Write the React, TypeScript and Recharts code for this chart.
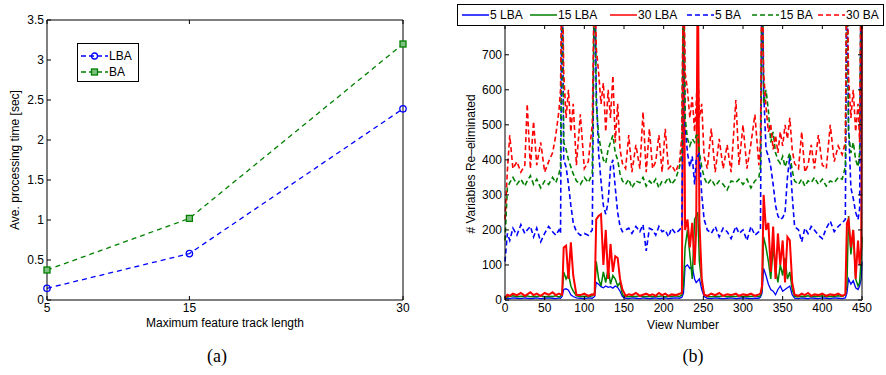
import React from 'react';
import { LineChart, Line, XAxis, YAxis } from 'recharts';

// (a) average processing time
const trackLengths = [5, 15, 30];
const lbaTime = [0.146, 0.58, 2.39];
const baTime = [0.375, 1.02, 3.2];
const timeTicks = [0, 0.5, 1, 1.5, 2, 2.5, 3, 3.5];

// (b) variables re-eliminated per view
const views = [
  0, 3, 6, 10, 15, 20, 25, 28, 32, 36,
  40, 45, 50, 55, 60, 64, 68, 70, 72, 74,
  77, 80, 83, 86, 90, 95, 100, 105, 110, 113,
  115, 118, 121, 124, 127, 130, 133, 136, 139, 142,
  145, 148, 152, 156, 160, 165, 170, 174, 178, 182,
  186, 190, 194, 198, 202, 206, 210, 215, 220, 223,
  225, 227, 230, 233, 236, 239, 241, 243, 245, 248,
  251, 255, 260, 265, 270, 275, 280, 285, 291, 295,
  300, 305, 310, 315, 320, 322, 324, 326, 329, 332,
  335, 338, 341, 344, 347, 350, 353, 356, 359, 362,
  365, 370, 374, 378, 382, 386, 390, 395, 400, 405,
  410, 415, 420, 425, 429, 431, 433, 436, 439, 442,
  445, 447, 449, 450,
];
const lba5 = [
  3, 5, 4, 6, 5, 4, 6, 5, 4, 5,
  6, 4, 5, 6, 5, 4, 6, 5, 10, 30,
  32, 28, 15, 10, 6, 5, 4, 6, 5, 10,
  50, 45, 38, 35, 40, 36, 38, 34, 40, 36,
  25, 10, 5, 4, 6, 5, 4, 6, 5, 4,
  5, 6, 4, 5, 6, 4, 5, 6, 5, 8,
  20, 95, 100, 90, 95, 60, 50, 55, 60, 30,
  10, 5, 4, 6, 5, 4, 5, 6, 4, 5,
  6, 5, 4, 5, 5, 8, 20, 90, 70, 45,
  30, 25, 15, 30, 40, 25, 30, 35, 40, 15,
  5, 4, 6, 5, 4, 6, 5, 4, 6, 5,
  4, 6, 5, 4, 6, 20, 60, 45, 55, 35,
  30, 40, 60, 110,
];
const lba15 = [
  5, 9, 10, 12, 9, 11, 10, 12, 9, 11,
  10, 12, 9, 11, 10, 12, 9, 11, 20, 80,
  60, 75, 40, 25, 12, 10, 11, 9, 12, 20,
  110, 60, 40, 80, 50, 90, 45, 70, 60, 40,
  50, 15, 10, 9, 11, 10, 12, 9, 10, 11,
  9, 11, 10, 12, 9, 11, 10, 12, 10, 15,
  40, 150, 200, 130, 60, 230, 240, 250, 110, 50,
  15, 10, 9, 11, 10, 12, 9, 11, 10, 12,
  9, 11, 10, 12, 10, 12, 30, 180, 150, 110,
  60, 150, 90, 50, 100, 70, 120, 60, 80, 30,
  10, 9, 11, 10, 12, 9, 11, 10, 12, 9,
  11, 10, 12, 10, 15, 40, 240, 130, 200, 60,
  40, 50, 120, 180,
];
const lba30 = [
  5, 15, 12, 18, 14, 20, 12, 16, 22, 14,
  18, 12, 20, 15, 22, 14, 18, 16, 15, 150,
  155, 60, 165, 70, 15, 14, 18, 12, 16, 15,
  230, 240, 245, 100, 200, 60, 160, 80, 125, 120,
  60, 30, 12, 16, 14, 20, 12, 15, 18, 13,
  16, 12, 20, 14, 18, 12, 16, 14, 18, 20,
  1000, 200, 230, 150, 220, 100, 200, 1000, 230, 60,
  15, 12, 18, 14, 20, 12, 16, 14, 18, 12,
  16, 14, 18, 12, 16, 18, 40, 300, 200, 220,
  80, 210, 60, 190, 100, 170, 50, 180, 170, 50,
  15, 12, 18, 14, 20, 12, 16, 14, 18, 12,
  16, 14, 18, 12, 16, 220, 230, 150, 200, 60,
  170, 100, 150, 1000,
];
const ba5 = [
  110, 190, 170, 205, 185, 215, 190, 200, 210, 180,
  205, 166, 190, 210, 195, 185, 200, 190, 1000, 400,
  380, 330, 270, 220, 195, 185, 190, 185, 200, 1000,
  600, 420, 340, 270, 245, 280, 380, 400, 320, 250,
  210, 195, 200, 205, 190, 210, 195, 215, 140, 205,
  200, 185, 210, 195, 200, 180, 205, 190, 200, 210,
  1000, 500, 420, 380, 410, 330, 400, 410, 420, 300,
  230, 200, 190, 210, 180, 205, 195, 175, 210, 190,
  200, 170, 210, 185, 195, 200, 1000, 600, 430, 410,
  380, 330, 270, 240, 230, 235, 250, 350, 410, 300,
  210, 200, 166, 205, 190, 210, 200, 185, 175, 205,
  225, 195, 210, 220, 230, 1000, 500, 320, 290, 250,
  230, 260, 1000, 1000,
];
const ba15 = [
  170, 320, 335, 350, 330, 345, 325, 340, 355, 330,
  345, 320, 340, 330, 350, 335, 360, 380, 1000, 450,
  430, 400, 380, 360, 340, 330, 350, 335, 360, 1000,
  560, 470, 430, 400, 390, 430, 450, 470, 420, 400,
  360, 340, 330, 345, 320, 340, 335, 350, 325, 340,
  330, 345, 320, 340, 335, 350, 330, 345, 380, 420,
  1000, 520, 460, 440, 460, 450, 470, 470, 420, 380,
  350, 330, 345, 325, 340, 330, 314, 340, 335, 345,
  330, 345, 320, 340, 350, 380, 1000, 560, 600, 540,
  450, 480, 420, 400, 390, 410, 380, 400, 420, 370,
  340, 330, 345, 325, 340, 335, 350, 330, 345, 325,
  340, 335, 350, 345, 380, 1000, 480, 420, 450, 400,
  380, 420, 1000, 1000,
];
const ba30 = [
  230, 370, 470, 375, 395, 365, 385, 560, 375, 510,
  385, 450, 365, 395, 420, 470, 540, 600, 1000, 650,
  520, 600, 480, 560, 385, 530, 375, 395, 500, 1000,
  720, 650, 560, 620, 480, 600, 520, 640, 450, 560,
  430, 390, 375, 471, 365, 443, 375, 537, 365, 489,
  375, 395, 471, 365, 489, 375, 385, 365, 395, 470,
  1000, 650, 600, 520, 580, 480, 560, 670, 520, 560,
  410, 375, 489, 365, 460, 375, 443, 365, 571, 385,
  500, 375, 446, 529, 385, 450, 1000, 650, 550, 480,
  500, 430, 470, 420, 480, 440, 500, 460, 520, 430,
  390, 375, 480, 365, 385, 443, 375, 471, 385, 375,
  500, 395, 440, 415, 450, 1000, 640, 520, 600, 480,
  560, 450, 1000, 1000,
];
const varTicks = [0, 100, 200, 300, 400, 500, 600, 700];
const viewTicks = [0, 50, 100, 150, 200, 250, 300, 350, 400, 450];

const BLUE = '#0000ff';
const GREEN = '#008000';
const RED = '#ff0000';

const seriesB = [
  { key: 'lba5', name: '5 LBA', color: BLUE, dash: undefined, width: 1.3 },
  { key: 'lba15', name: '15 LBA', color: GREEN, dash: undefined, width: 1.5 },
  { key: 'lba30', name: '30 LBA', color: RED, dash: undefined, width: 2 },
  { key: 'ba5', name: '5 BA', color: BLUE, dash: '5 3', width: 1.6 },
  { key: 'ba15', name: '15 BA', color: GREEN, dash: '5 3', width: 1.6 },
  { key: 'ba30', name: '30 BA', color: RED, dash: '5 3', width: 1.6 },
];

const tickFont = { fontSize: 12, fill: '#000' };
const noTick = () => <g />;

const CircleDot = (p: any) =>
  p.cx == null ? <g key={p.key} /> : <circle key={p.key} cx={p.cx} cy={p.cy} r={3.2} fill="none" stroke={BLUE} strokeWidth={1.3} />;
const SquareDot = (p: any) =>
  p.cx == null ? <g key={p.key} /> : <rect key={p.key} x={p.cx - 3} y={p.cy - 3} width={6} height={6} fill="#7fbf7f" stroke={GREEN} strokeWidth={1.3} />;

const abs = (left: number, top: number, extra: React.CSSProperties = {}): React.CSSProperties => ({
  position: 'absolute', left, top, transform: 'translate(-50%, -50%)', whiteSpace: 'nowrap', ...extra,
});

function PanelA() {
  const data = trackLengths.map((t, i) => ({ len: t, lba: lbaTime[i], ba: baTime[i] }));
  return (
    <LineChart width={440} height={340} data={data} margin={{ top: 19, right: 36, bottom: 20, left: 0 }}>
      <XAxis dataKey="len" type="number" domain={[5, 30]} ticks={trackLengths} interval={0} tick={tickFont} tickSize={-4} tickMargin={7} stroke="#000" height={20} />
      <XAxis xAxisId="top" orientation="top" dataKey="len" type="number" domain={[5, 30]} ticks={trackLengths} tick={noTick} tickSize={-4} stroke="#000" height={1} />
      <YAxis domain={[0, 3.5]} ticks={timeTicks} interval={0} tick={tickFont} tickSize={-4} tickMargin={7} stroke="#000" width={47} />
      <YAxis yAxisId="right" orientation="right" domain={[0, 3.5]} ticks={timeTicks} tick={noTick} tickSize={-4} stroke="#000" width={1} />
      <Line dataKey="lba" stroke={BLUE} strokeWidth={1.3} strokeDasharray="5 4" dot={CircleDot} isAnimationActive={false} />
      <Line dataKey="ba" stroke={GREEN} strokeWidth={1.3} strokeDasharray="5 4" dot={SquareDot} isAnimationActive={false} />
    </LineChart>
  );
}

function PanelB() {
  const data = views.map((v, i) => ({
    view: v, lba5: lba5[i], lba15: lba15[i], lba30: lba30[i], ba5: ba5[i], ba15: ba15[i], ba30: ba30[i],
  }));
  return (
    <LineChart width={446} height={340} data={data} margin={{ top: 24, right: 23, bottom: 20, left: 25 }}>
      <XAxis dataKey="view" type="number" domain={[0, 450]} ticks={viewTicks} interval={0} tick={tickFont} tickSize={-4} tickMargin={7} stroke="#000" height={20} />
      <XAxis xAxisId="top" orientation="top" dataKey="view" type="number" domain={[0, 450]} ticks={viewTicks} tick={noTick} tickSize={-4} stroke="#000" height={1} />
      <YAxis domain={[0, 785]} allowDataOverflow ticks={varTicks} interval={0} tick={tickFont} tickSize={-4} tickMargin={7} stroke="#000" width={40} />
      <YAxis yAxisId="right" orientation="right" domain={[0, 785]} allowDataOverflow ticks={varTicks} tick={noTick} tickSize={-4} stroke="#000" width={1} />
      {seriesB.map((s) => (
        <Line key={s.key} dataKey={s.key} name={s.name} type="linear" stroke={s.color} strokeWidth={s.width} strokeDasharray={s.dash} dot={false} isAnimationActive={false} />
      ))}
    </LineChart>
  );
}

function LegendSample({ color, dash, marker }: { color: string; dash?: string; marker?: string }) {
  return (
    <svg width={27} height={10} style={{ display: 'block' }}>
      <line x1={0} y1={5} x2={27} y2={5} stroke={color} strokeWidth={1.5} strokeDasharray={dash} />
      {marker === 'circle' && <circle cx={13.5} cy={5} r={3} fill="none" stroke={color} strokeWidth={1.3} />}
      {marker === 'square' && <rect x={10.5} y={2} width={6} height={6} fill="#7fbf7f" stroke={color} strokeWidth={1.3} />}
    </svg>
  );
}

const legendLeftB = [4, 72, 152, 229, 294, 360];

export default function App() {
  return (
    <div style={{ position: 'absolute', left: 0, top: 0, width: 886, height: 375, background: '#fff', fontFamily: '"Liberation Sans", Arial, sans-serif', color: '#000' }}>
      <div style={{ position: 'absolute', left: 0, top: 0 }}>
        <PanelA />
      </div>
      <div style={{ position: 'absolute', left: 440, top: 0 }}>
        <PanelB />
      </div>

      {/* legend (a) */}
      <div style={{ position: 'absolute', left: 77, top: 43, width: 62, height: 39, border: '1.5px solid #000', boxSizing: 'border-box', background: '#fff', fontSize: 12 }}>
        <div style={{ position: 'absolute', left: 3, top: 5, display: 'flex', alignItems: 'center' }}>
          <LegendSample color={BLUE} dash="5 3" marker="circle" />
          <span style={{ marginLeft: 1 }}>LBA</span>
        </div>
        <div style={{ position: 'absolute', left: 3, top: 21, display: 'flex', alignItems: 'center' }}>
          <LegendSample color={GREEN} dash="5 3" marker="square" />
          <span style={{ marginLeft: 1 }}>BA</span>
        </div>
      </div>

      {/* legend (b) */}
      <div style={{ position: 'absolute', left: 457, top: 4, width: 427, height: 22, border: '1px solid #000', boxSizing: 'border-box', background: '#fff', fontSize: 12 }}>
        {seriesB.map((s, i) => (
          <div key={s.key} style={{ position: 'absolute', left: legendLeftB[i], top: 3, display: 'flex', alignItems: 'center' }}>
            <LegendSample color={s.color} dash={s.dash} />
            <span style={{ marginLeft: 1 }}>{s.name}</span>
          </div>
        ))}
      </div>

      <div style={abs(15, 160, { transform: 'translate(-50%, -50%) rotate(-90deg)', fontSize: 12 })}>Ave. processing time [sec]</div>
      <div style={abs(225, 323, { fontSize: 12 })}>Maximum feature track length</div>
      <div style={abs(217, 356, { fontSize: 18, fontFamily: '"Liberation Serif", serif' })}>(a)</div>

      <div style={abs(471, 164, { transform: 'translate(-50%, -50%) rotate(-90deg)', fontSize: 12 })}># Variables Re–eliminated</div>
      <div style={abs(683, 325, { fontSize: 12 })}>View Number</div>
      <div style={abs(693, 356, { fontSize: 18, fontFamily: '"Liberation Serif", serif' })}>(b)</div>
    </div>
  );
}
